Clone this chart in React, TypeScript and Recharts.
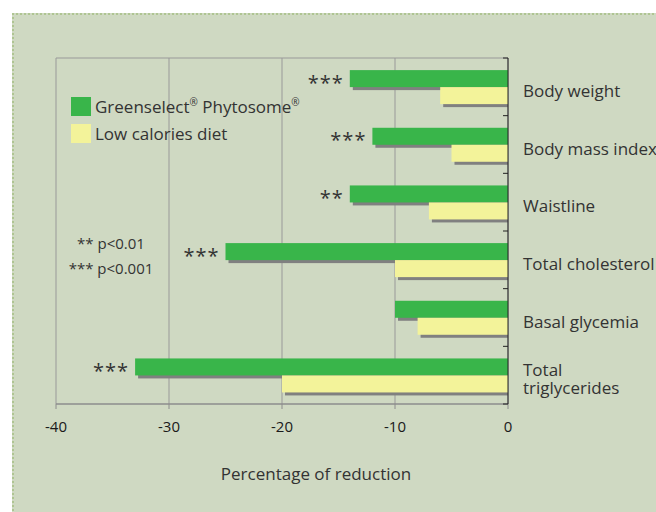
import React from "react";
import {
  BarChart,
  Bar,
  XAxis,
  YAxis,
  CartesianGrid,
  Legend,
  LabelList,
  Label,
} from "recharts";

const categories = [
  "Body weight",
  "Body mass index",
  "Waistline",
  "Total cholesterol",
  "Basal glycemia",
  "Total\ntriglycerides",
];
const greenselect = [-14, -12, -14, -25, -10, -33];
const lowCalories = [-6, -5, -7, -10, -8, -20];
const significance = ["***", "***", "**", "***", "", "***"];
const xTicks = [-40, -30, -20, -10, 0];

const data = categories.map((name, i) => ({
  name,
  green: greenselect[i],
  diet: lowCalories[i],
  sig: significance[i],
}));

const FONT = "'Open Sans', 'DejaVu Sans', sans-serif";
const W = 656;
const H = 512;
const MARGIN = { top: 58, right: 8, bottom: 28, left: 56 };
const X_AXIS_H = 80;
const Y_AXIS_W = 140;
const TICK_MARGIN = 15;
const PLOT_H = H - MARGIN.top - MARGIN.bottom - X_AXIS_H;

const GREEN = "#39b54a";
const YELLOW = "#f3f39a";
const SHADOW = "#808080";

const shadowBar = (fill: string) => (props: any) => {
  const { x, y, width, height } = props;
  const left = Math.min(x, x + width);
  const w = Math.abs(width);
  return (
    <g>
      <rect x={left + 3} y={y + 3} width={Math.max(w - 3, 0)} height={height} fill={SHADOW} />
      <rect x={left} y={y} width={w} height={height} fill={fill} />
    </g>
  );
};

const CategoryTick = (props: any) => {
  const { x, y, payload, index } = props;
  const lines = String(payload.value).split("\n");
  const axisX = x - TICK_MARGIN;
  const band = PLOT_H / categories.length;
  return (
    <g>
      <line x1={axisX - 5} x2={axisX} y1={y - band / 2} y2={y - band / 2} stroke="#222" />
      {index === categories.length - 1 && (
        <line x1={axisX - 5} x2={axisX} y1={y + band / 2} y2={y + band / 2} stroke="#222" />
      )}
      {lines.map((l, i) => (
        <text
          key={i}
          x={x}
          y={y + 10 - (lines.length - 1) * 9 + i * 18}
          fill="#333"
          fontSize={17}
          fontFamily={FONT}
        >
          {l}
        </text>
      ))}
    </g>
  );
};

const SigLabel = (props: any) => {
  const { x, y, width, height, value } = props;
  if (!value) return null;
  const nx = Number(x);
  const nw = Number(width);
  const left = Math.min(nx, nx + nw);
  return (
    <text
      x={left - 6}
      y={Number(y) + Number(height) / 2 + 11}
      textAnchor="end"
      fontSize={20}
      letterSpacing={1}
      fill="#333"
      fontFamily={FONT}
    >
      {value}
    </text>
  );
};

// the ® marks are drawn small and raised, as in the original
const withSup = (text: string) =>
  text.split("®").map((part, i, arr) => (
    <React.Fragment key={i}>
      {part}
      {i < arr.length - 1 && (
        <sup style={{ fontSize: 10, verticalAlign: "7px", lineHeight: 0 }}>®</sup>
      )}
    </React.Fragment>
  ));

const LegendContent = (props: any) => {
  const { payload } = props;
  return (
    <div style={{ fontFamily: FONT, fontSize: 17, color: "#333" }}>
      {(payload || []).map((entry: any, i: number) => (
        <div
          key={i}
          style={{ display: "flex", alignItems: "center", height: 19, marginBottom: 8 }}
        >
          <span
            style={{
              display: "inline-block",
              width: 20,
              height: 19,
              background: entry.color,
              marginRight: 4,
            }}
          />
          <span>{withSup(String(entry.value))}</span>
        </div>
      ))}
    </div>
  );
};

export default function App() {
  return (
    <div
      style={{
        position: "absolute",
        left: 0,
        top: 0,
        width: W,
        height: H,
        background: "#fff",
        overflow: "hidden",
      }}
    >
      <div
        style={{
          position: "absolute",
          left: 12,
          top: 13,
          width: W,
          height: H,
          background: "#cfd9c2",
          borderLeft: "2px dotted #afc592",
          borderTop: "2px dotted #afc592",
        }}
      />
      <div
        style={{
          position: "absolute",
          left: 61,
          top: 231,
          width: 100,
          textAlign: "center",
          fontFamily: FONT,
          fontSize: 15,
          lineHeight: "25px",
          color: "#333",
        }}
      >
        <div>** p&lt;0.01</div>
        <div>*** p&lt;0.001</div>
      </div>
      <div style={{ position: "absolute", left: 0, top: 0 }}>
        <BarChart
          width={W}
          height={H}
          data={data}
          layout="vertical"
          margin={MARGIN}
          barGap={0}
          barCategoryGap="21%"
        >
          <CartesianGrid
            stroke="#999"
            horizontalCoordinatesGenerator={({ offset }: any) => [offset.top]}
          />
          <XAxis
            type="number"
            domain={[-40, 0]}
            ticks={xTicks}
            height={X_AXIS_H}
            axisLine={{ stroke: "#8c8c8c", strokeWidth: 1.5 }}
            tickLine={{ stroke: "#8c8c8c" }}
            tickSize={5}
            tickMargin={12}
            tick={{ fill: "#1a1a1a", fontSize: 15, fontFamily: FONT }}
          >
            <Label
              value="Percentage of reduction"
              position="insideBottom"
              offset={4}
              dx={34}
              fill="#333"
              fontSize={17}
              fontFamily={FONT}
            />
          </XAxis>
          <YAxis
            type="category"
            dataKey="name"
            orientation="right"
            width={Y_AXIS_W}
            interval={0}
            axisLine={{ stroke: "#222" }}
            tickLine={false}
            tickSize={0}
            tickMargin={TICK_MARGIN}
            tick={CategoryTick}
          />
          <Legend
            layout="vertical"
            align="center"
            verticalAlign="middle"
            wrapperStyle={{ left: 71, top: 97, width: 260 }}
            content={LegendContent}
          />
          <Bar
            dataKey="green"
            name="Greenselect® Phytosome®"
            fill={GREEN}
            shape={shadowBar(GREEN)}
            isAnimationActive={false}
          >
            <LabelList dataKey="sig" content={SigLabel} />
          </Bar>
          <Bar
            dataKey="diet"
            name="Low calories diet"
            fill={YELLOW}
            shape={shadowBar(YELLOW)}
            isAnimationActive={false}
          />
        </BarChart>
      </div>
    </div>
  );
}
